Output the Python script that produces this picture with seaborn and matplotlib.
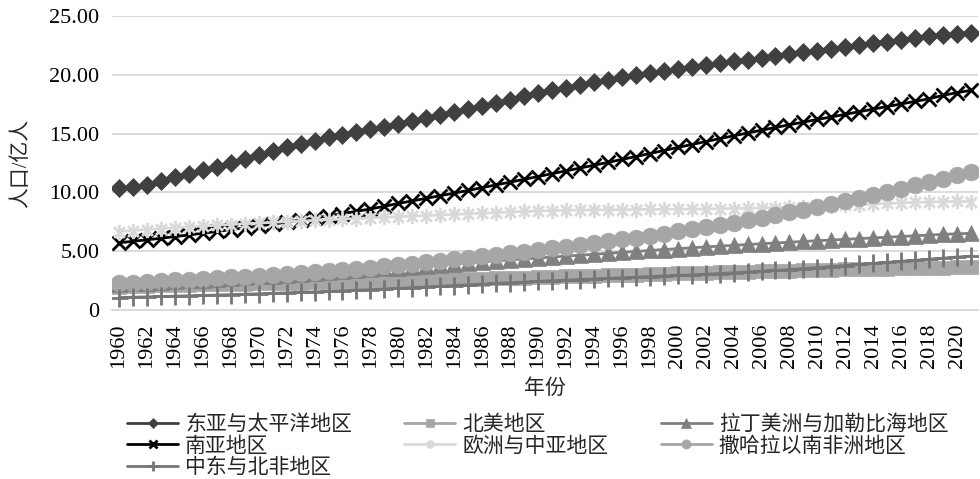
import matplotlib
matplotlib.use("Agg")
import matplotlib.pyplot as plt
import seaborn as sns
import pandas as pd
from matplotlib.path import Path

# population, unit: 亿人 (1e8 people), 1960-2021
years = list(range(1960, 2022))

east_asia = [10.40, 10.45, 10.67, 11.00, 11.28, 11.58, 11.90, 12.19, 12.52, 12.86,
             13.19, 13.52, 13.83, 14.13, 14.41, 14.67, 14.91, 15.14, 15.37, 15.60,
             15.83, 16.07, 16.33, 16.58, 16.82, 17.07, 17.33, 17.61, 17.89, 18.17,
             18.43, 18.68, 18.91, 19.14, 19.36, 19.58, 19.79, 19.99, 20.18, 20.36,
             20.53, 20.69, 20.85, 21.00, 21.15, 21.30, 21.45, 21.60, 21.75, 21.90,
             22.05, 22.20, 22.36, 22.52, 22.68, 22.83, 22.99, 23.14, 23.27, 23.39,
             23.50, 23.57]
north_america = [1.99, 2.03, 2.06, 2.09, 2.12, 2.14, 2.17, 2.19, 2.21, 2.23,
                 2.26, 2.29, 2.31, 2.33, 2.35, 2.37, 2.40, 2.42, 2.44, 2.47,
                 2.51, 2.53, 2.56, 2.58, 2.61, 2.63, 2.66, 2.68, 2.71, 2.74,
                 2.78, 2.81, 2.85, 2.88, 2.91, 2.95, 2.98, 3.01, 3.04, 3.08,
                 3.11, 3.14, 3.17, 3.19, 3.22, 3.25, 3.28, 3.31, 3.34, 3.37,
                 3.40, 3.42, 3.45, 3.47, 3.50, 3.52, 3.55, 3.57, 3.59, 3.61,
                 3.63, 3.64]
latin_america = [2.20, 2.26, 2.32, 2.38, 2.45, 2.51, 2.58, 2.65, 2.72, 2.79,
                 2.86, 2.93, 3.00, 3.07, 3.14, 3.22, 3.29, 3.37, 3.45, 3.53,
                 3.61, 3.69, 3.77, 3.85, 3.94, 4.02, 4.10, 4.18, 4.26, 4.34,
                 4.42, 4.50, 4.58, 4.66, 4.74, 4.82, 4.90, 4.98, 5.06, 5.14,
                 5.21, 5.29, 5.36, 5.43, 5.50, 5.57, 5.63, 5.70, 5.76, 5.83,
                 5.89, 5.95, 6.01, 6.07, 6.13, 6.19, 6.25, 6.31, 6.37, 6.43,
                 6.48, 6.52]
south_asia = [5.72, 5.84, 5.97, 6.10, 6.24, 6.38, 6.53, 6.68, 6.83, 6.98,
              7.13, 7.30, 7.47, 7.65, 7.83, 8.01, 8.20, 8.39, 8.59, 8.82,
              9.06, 9.28, 9.50, 9.72, 9.94, 10.17, 10.40, 10.64, 10.87, 11.11,
              11.35, 11.59, 11.83, 12.07, 12.31, 12.55, 12.80, 13.05, 13.30, 13.56,
              13.82, 14.07, 14.32, 14.57, 14.81, 15.05, 15.29, 15.52, 15.75, 15.98,
              16.20, 16.42, 16.64, 16.86, 17.08, 17.30, 17.52, 17.74, 17.96, 18.26,
              18.48, 18.68]
europe = [6.67, 6.76, 6.84, 6.92, 7.00, 7.07, 7.14, 7.20, 7.27, 7.33,
          7.39, 7.45, 7.51, 7.56, 7.62, 7.67, 7.73, 7.78, 7.83, 7.88,
          7.93, 7.98, 8.03, 8.08, 8.13, 8.18, 8.23, 8.28, 8.33, 8.38,
          8.42, 8.45, 8.48, 8.50, 8.51, 8.52, 8.53, 8.54, 8.55, 8.56,
          8.57, 8.58, 8.59, 8.61, 8.63, 8.65, 8.68, 8.71, 8.75, 8.79,
          8.83, 8.87, 8.91, 8.96, 9.01, 9.06, 9.11, 9.15, 9.18, 9.21,
          9.23, 9.22]
sub_saharan = [2.27, 2.33, 2.39, 2.45, 2.51, 2.57, 2.64, 2.70, 2.77, 2.84,
               2.91, 2.99, 3.07, 3.15, 3.24, 3.33, 3.42, 3.51, 3.61, 3.72,
               3.83, 3.94, 4.06, 4.18, 4.30, 4.42, 4.55, 4.68, 4.82, 4.96,
               5.10, 5.24, 5.39, 5.54, 5.69, 5.84, 6.00, 6.16, 6.32, 6.50,
               6.68, 6.86, 7.05, 7.24, 7.44, 7.65, 7.86, 8.08, 8.30, 8.53,
               8.77, 9.01, 9.26, 9.52, 9.78, 10.05, 10.32, 10.60, 10.88, 11.16,
               11.45, 11.74]
mid_east = [1.06, 1.09, 1.12, 1.15, 1.18, 1.21, 1.24, 1.27, 1.31, 1.34,
            1.38, 1.42, 1.46, 1.50, 1.54, 1.58, 1.63, 1.68, 1.73, 1.78,
            1.84, 1.90, 1.96, 2.02, 2.08, 2.14, 2.20, 2.26, 2.32, 2.37,
            2.43, 2.49, 2.54, 2.59, 2.64, 2.69, 2.74, 2.79, 2.84, 2.89,
            2.94, 2.99, 3.04, 3.10, 3.16, 3.22, 3.29, 3.36, 3.44, 3.52,
            3.60, 3.69, 3.78, 3.87, 3.96, 4.05, 4.14, 4.23, 4.32, 4.41,
            4.50, 4.57]

names = ["东亚与太平洋地区", "北美地区", "拉丁美洲与加勒比海地区", "南亚地区",
         "欧洲与中亚地区", "撒哈拉以南非洲地区", "中东与北非地区"]
yticks = [0, 5, 10, 15, 20, 25]
ytick_labels = ["0", "5.00", "10.00", "15.00", "20.00", "25.00"]

# excel style asterisk: x plus a vertical bar
asterisk = Path([(0, -1), (0, 1), (-0.71, -0.71), (0.71, 0.71), (-0.71, 0.71), (0.71, -0.71)],
                [Path.MOVETO, Path.LINETO, Path.MOVETO, Path.LINETO, Path.MOVETO, Path.LINETO])

styles = [
    dict(color="#404040", marker="D", markersize=9.5, markeredgewidth=0.5),
    dict(color="#a6a6a6", marker="s", markersize=10, markeredgewidth=0.5),
    dict(color="#808080", marker="^", markersize=12, markeredgewidth=0.5),
    dict(color="black", marker="x", markersize=10, markeredgewidth=2),
    dict(color="#d9d9d9", marker=asterisk, markersize=11, markeredgewidth=2),
    dict(color="#a6a6a6", marker="o", markersize=12, markeredgewidth=0.5),
    dict(color="#767676", marker="+", markersize=13, markeredgewidth=2),
]

sns.set_style("white")
plt.rcParams["font.family"] = ["Liberation Serif", "Noto Sans CJK SC"]

fig = plt.figure(figsize=(9.8, 4.79), dpi=100)
ax = fig.add_axes([112 / 980, 1 - 310 / 479, 866 / 980, 294 / 479])

series = [east_asia, north_america, latin_america, south_asia, europe, sub_saharan, mid_east]
for name, vals, st in zip(names, series, styles):
    df = pd.DataFrame({"year": years, "pop": vals})
    sns.lineplot(data=df, x="year", y="pop", ax=ax, linewidth=2, label=name,
                 markeredgecolor=st["color"], markerfacecolor=st["color"], **st)

ax.set_xlim(1959.5, 2021.5)
ax.set_ylim(0, 25)
ax.set_yticks(yticks)
ax.set_yticklabels(ytick_labels)
ax.set_xticks(range(1960, 2021, 2))
ax.set_xticklabels([str(y) for y in range(1960, 2021, 2)], rotation=90)
ax.tick_params(axis="both", length=0, labelsize=16, colors="black")
ax.tick_params(axis="y", pad=9)
ax.tick_params(axis="x", pad=10)
ax.grid(axis="y", color="#d9d9d9", linewidth=1.3)
ax.set_axisbelow(True)
for s in ["top", "right", "left"]:
    ax.spines[s].set_visible(False)
ax.spines["bottom"].set_color("#d9d9d9")
ax.spines["bottom"].set_linewidth(1.3)

ax.set_xlabel("年份", fontsize=15, labelpad=8)
ax.set_ylabel("人口/亿人", fontsize=15)
ax.yaxis.set_label_coords(-0.093, 0.5)

h, l = ax.get_legend_handles_labels()
ax.get_legend().remove()
order = [0, 3, 6, 1, 4, 2, 5]
fig.legend([h[i] for i in order], [l[i] for i in order], loc="upper left",
           bbox_to_anchor=(127 / 980, 1 - 415 / 479), ncol=3, frameon=False,
           fontsize=15, handlelength=2.45, handletextpad=0.34, columnspacing=2.5,
           labelspacing=0.1, borderpad=0, borderaxespad=0, markerscale=0.55)

fig.savefig("out.png", dpi=100)
